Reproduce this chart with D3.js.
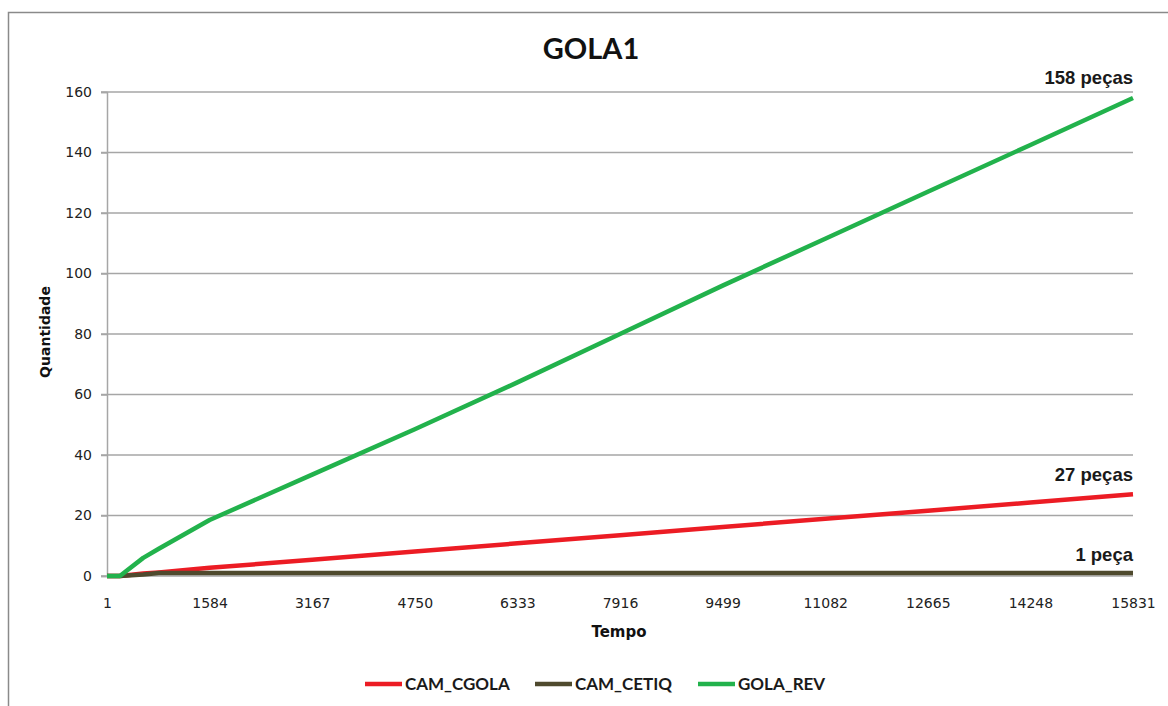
<!DOCTYPE html>
<html>
<head>
<meta charset="utf-8">
<script src="https://cdn.jsdelivr.net/npm/d3@7"></script>
<style>
  html, body { margin: 0; padding: 0; background: #fff; }
  svg { display: block; }
</style>
</head>
<body>
<svg id="chart" width="1168" height="706"></svg>
<script>
// Elapsed time samples (simulation clock)
const times = [1, 200, 560, 800, 1584, 3167, 4750, 6333, 7916, 9499, 11082, 12665, 14248, 15831];
// Accumulated quantities per station
const camCgola = [0, 0, 0.8, 1.2, 2.7, 5.4, 8.1, 10.8, 13.5, 16.2, 18.9, 21.6, 24.3, 27];
const camCetiq = [0, 0, 0.5, 1, 1, 1, 1, 1, 1, 1, 1, 1, 1, 1];
const golaRev  = [0, 0, 6, 9, 18.5, 33.5, 48.5, 64, 80, 96, 111.5, 127, 142.5, 158];

const seriesNames = ["CAM_CGOLA", "CAM_CETIQ", "GOLA_REV"];
const seriesColors = ["#ec1c24", "#4f4a2e", "#22b24c"];
const endLabels = ["27 peças", "1 peça", "158 peças"];

const xTicks = [1, 1584, 3167, 4750, 6333, 7916, 9499, 11082, 12665, 14248, 15831];
const yTicks = [0, 20, 40, 60, 80, 100, 120, 140, 160];

const svg = d3.select("#chart");
const plot = { left: 107, right: 1133, top: 92, bottom: 576 };

// Outer chart frame
svg.append("rect")
  .attr("x", 8.5).attr("y", 12.5)
  .attr("width", 1175).attr("height", 710)
  .attr("fill", "#fff")
  .attr("stroke", "#8a8a8a").attr("stroke-width", 1.5);

const x = d3.scaleLinear().domain([1, 15831]).range([plot.left, plot.right]);
const y = d3.scaleLinear().domain([0, 160]).range([plot.bottom, plot.top]);

const tickFont = "DejaVu Sans, Verdana, sans-serif";

// Horizontal gridlines
svg.append("g")
  .selectAll("line")
  .data(yTicks.filter(d => d > 0))
  .join("line")
  .attr("x1", plot.left - 6).attr("x2", plot.right)
  .attr("y1", d => y(d)).attr("y2", d => y(d))
  .attr("stroke", "#a6a6a6").attr("stroke-width", 1.5);

// Y axis
const yAxis = svg.append("g")
  .attr("transform", `translate(${plot.left},0)`)
  .call(d3.axisLeft(y).tickValues(yTicks).tickSize(6).tickPadding(9));
yAxis.select(".domain").attr("stroke", "#a6a6a6").attr("stroke-width", 1.5);
yAxis.selectAll(".tick line").attr("stroke", "#a6a6a6").attr("stroke-width", 1.5);
yAxis.selectAll("text")
  .attr("font-family", tickFont)
  .attr("font-size", 14).attr("fill", "#222");

// X axis
const xAxis = svg.append("g")
  .attr("transform", `translate(0,${plot.bottom})`)
  .call(d3.axisBottom(x).tickValues(xTicks).tickSize(0).tickPadding(22)
    .tickFormat(d3.format("d")));
xAxis.select(".domain").attr("stroke", "#a6a6a6").attr("stroke-width", 1.5)
  .attr("d", `M${plot.left - 6},0H${plot.right}`);
xAxis.selectAll("text")
  .attr("font-family", tickFont)
  .attr("font-size", 14).attr("fill", "#222");

// Series lines
const seriesData = [camCgola, camCetiq, golaRev];
const line = d3.line()
  .x((d, i) => x(times[i]))
  .y(d => y(d));

svg.append("g")
  .selectAll("path")
  .data(seriesData)
  .join("path")
  .attr("d", d => line(d))
  .attr("fill", "none")
  .attr("stroke", (d, i) => seriesColors[i])
  .attr("stroke-width", 4.5)
  .attr("stroke-linejoin", "round");

// End-of-run labels
const endOffsets = [-13, -12, -14];
svg.append("g")
  .selectAll("text")
  .data(seriesData)
  .join("text")
  .attr("x", plot.right)
  .attr("y", (d, i) => y(d[d.length - 1]) + endOffsets[i])
  .attr("text-anchor", "end")
  .attr("font-family", "Liberation Sans, Arial, sans-serif")
  .attr("font-weight", "bold")
  .attr("font-size", 18.5)
  .attr("fill", "#1a1a1a")
  .text((d, i) => endLabels[i]);

// Title
svg.append("text")
  .attr("x", 591).attr("y", 59)
  .attr("text-anchor", "middle")
  .attr("font-family", "Lato, sans-serif")
  .attr("font-weight", "bold")
  .attr("font-size", 29)
  .attr("fill", "#111")
  .text("GOLA1");

// Axis titles
svg.append("text")
  .attr("x", 619).attr("y", 637)
  .attr("text-anchor", "middle")
  .attr("font-family", tickFont)
  .attr("font-weight", "bold")
  .attr("font-size", 15)
  .attr("fill", "#111")
  .text("Tempo");

svg.append("text")
  .attr("transform", "translate(50,332) rotate(-90)")
  .attr("text-anchor", "middle")
  .attr("font-family", tickFont)
  .attr("font-weight", "bold")
  .attr("font-size", 14)
  .attr("fill", "#111")
  .text("Quantidade");

// Legend
const legendX = [365, 535, 698];
const legend = svg.append("g")
  .selectAll("g")
  .data(seriesNames)
  .join("g")
  .attr("transform", (d, i) => `translate(${legendX[i]},684)`);
legend.append("line")
  .attr("x1", 0).attr("x2", 37).attr("y1", 0).attr("y2", 0)
  .attr("stroke", (d, i) => seriesColors[i])
  .attr("stroke-width", 4.5);
legend.append("text")
  .attr("x", 40).attr("y", 6)
  .attr("font-family", "Lato, sans-serif")
  .attr("font-weight", "bold")
  .attr("font-size", 17)
  .attr("fill", "#1a1a1a")
  .text(d => d);
</script>
</body>
</html>
